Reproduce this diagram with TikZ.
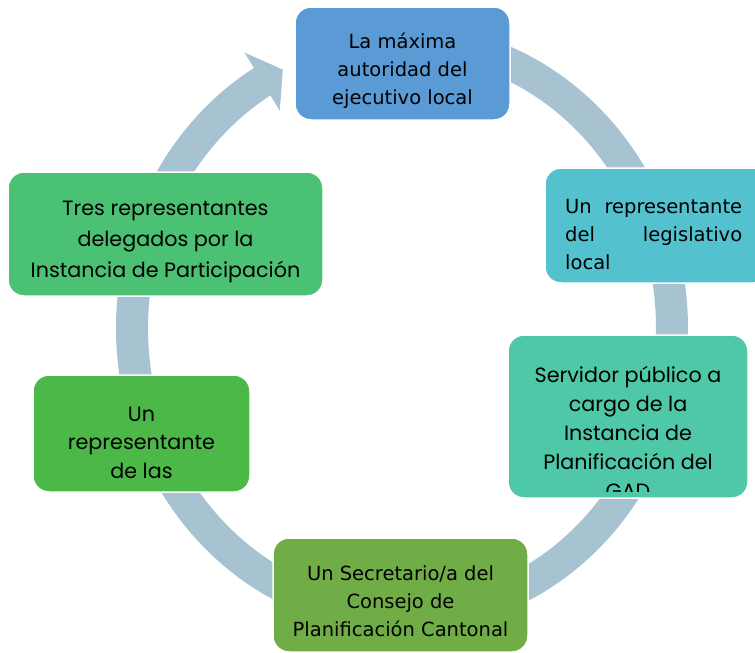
\documentclass[tikz,border=0pt]{standalone}
\usepackage{fontspec}
\setmainfont{DejaVu Sans}
\newfontfamily\gothic{Poppins}
\usetikzlibrary{calc,positioning}

\definecolor{ringblue}{HTML}{A7C3D1}
\definecolor{boxblue}{HTML}{5B9BD5}
\definecolor{boxcyan}{HTML}{53C1CE}
\definecolor{boxteal}{HTML}{4EC8A7}
\definecolor{boxolive}{HTML}{70AD47}
\definecolor{boxgreen}{HTML}{4BB847}
\definecolor{boxmint}{HTML}{4BC173}

\begin{document}
\begin{tikzpicture}[x=1pt, y=1pt,
    box/.style={rounded corners=16pt, draw=white, line width=1.5pt, inner sep=0pt},
    tahoma/.style={align=center, inner sep=0pt, font=\fontsize{19.5}{28}\selectfont},
    gothic/.style={align=center, inner sep=0pt, font=\gothic\fontsize{20.7}{#1}\selectfont},
    gothic/.default=29]
    \useasboundingbox (0,0) rectangle (755,-653);
    \coordinate (ctr) at (402,-328);

    % the ring and its head
    \draw[ringblue, line width=32pt] ($(ctr)+(90:270 and 288)$)
        arc[start angle=90, end angle=-239.3, x radius=270, y radius=288];
    \coordinate (hout) at ($(ctr)+(-238.8:304 and 322)$);
    \coordinate (hin)  at ($(ctr)+(-238.8:236 and 254)$);
    \coordinate (htip) at ($(ctr)+(-243.8:270 and 288)$);
    \fill[ringblue] (hout) -- (htip) -- (hin) -- cycle;

    % boxes
    \node[box, fill=boxblue, minimum width=215pt, minimum height=113pt] (autoridad) at (402.5,-63.5) {};
    \node[box, fill=boxcyan, minimum width=225pt, minimum height=115pt] (legislativo) at (657.5,-225.5) {};
    \node[box, fill=boxteal, minimum width=240pt, minimum height=163pt] (servidor) at (628,-416.5) {};
    \node[box, fill=boxolive, minimum width=255pt, minimum height=114pt] (secretario) at (400.5,-595) {};
    \node[box, fill=boxgreen, minimum width=217pt, minimum height=117pt] (representante) at (141.5,-433.5) {};
    \node[box, fill=boxmint, minimum width=315pt, minimum height=124pt] (delegados) at (165.5,-234) {};

    % texts
    \node[tahoma] (autoridadtxt) at ([yshift=-7pt]autoridad.center) {La máxima\\autoridad del\\ejecutivo local};
    \node[tahoma, align=left, text width=177pt, anchor=west]
        (legislativotxt) at (565,-234.5) {Un\hfill representante\\del\hfill legislativo\\local};
    \begin{scope}
        \clip (508,-335) rectangle (748,-491);
        \node[gothic, anchor=north] (servidortxt) at (628,-366)
            {Servidor público a\\cargo de la\\Instancia de\\Planificación del\\GAD};
    \end{scope}
    \node[tahoma] (secretariotxt) at ([yshift=-6pt]secretario.center) {Un Secretario/a del\\Consejo de\\Planificación Cantonal};
    \node[gothic=28.5] (representantetxt) at ([yshift=-9pt]representante.center) {Un\\representante\\de las};
    \node[gothic=31] (delegadostxt) at ([yshift=-8pt]delegados.center) {Tres representantes\\delegados por la\\Instancia de Participación};
\end{tikzpicture}
\end{document}
